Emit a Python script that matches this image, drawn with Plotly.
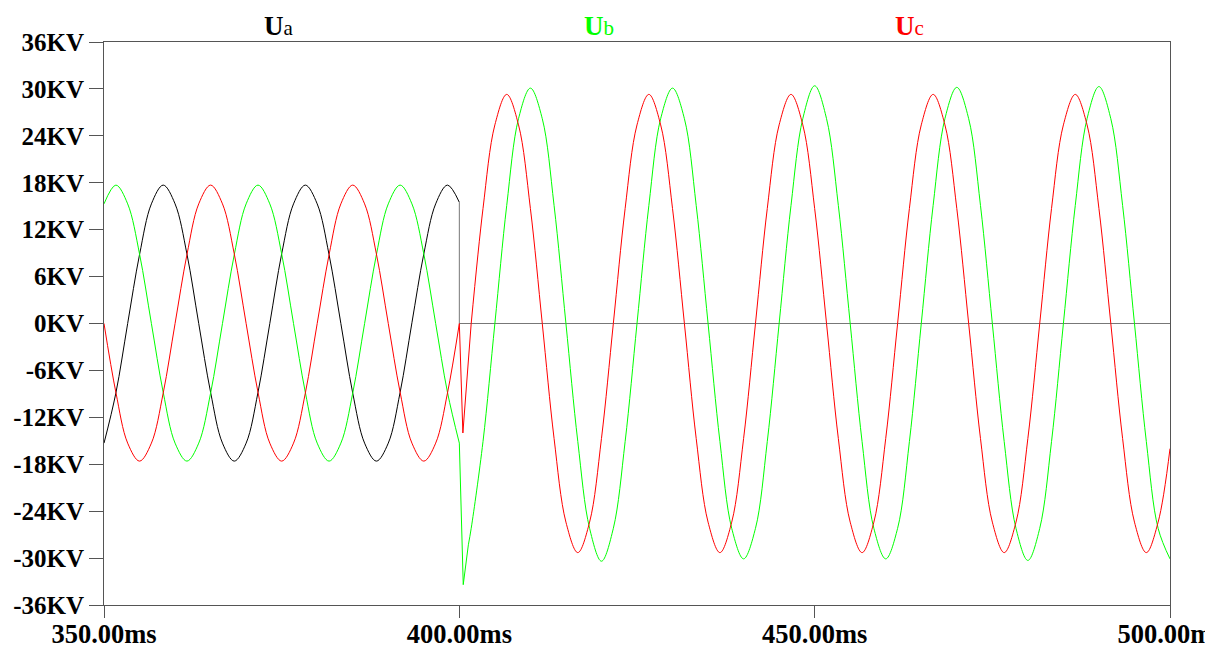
import plotly.graph_objects as go

# ---------------- data ----------------
grid_pre = [350.00, 351.67, 353.33, 355.00, 356.67, 358.33, 360.00, 361.67, 363.33, 365.00,
            366.67, 368.33, 370.00, 371.67, 373.33, 375.00, 376.67, 378.33, 380.00, 381.67,
            383.33, 385.00, 386.67, 388.33, 390.00, 391.67, 393.33, 395.00, 396.67, 398.33, 400.00]
grid_post = [401.67, 403.33, 405.00, 406.67, 408.33, 410.00, 411.67, 413.33, 415.00, 416.67,
             418.33, 420.00, 421.67, 423.33, 425.00, 426.67, 428.33, 430.00, 431.67, 433.33,
             435.00, 436.67, 438.33, 440.00, 441.67, 443.33, 445.00, 446.67, 448.33, 450.00,
             451.67, 453.33, 455.00, 456.67, 458.33, 460.00, 461.67, 463.33, 465.00, 466.67,
             468.33, 470.00, 471.67, 473.33, 475.00, 476.67, 478.33, 480.00, 481.67, 483.33,
             485.00, 486.67, 488.33, 490.00, 491.67, 493.33, 495.00, 496.67, 498.33, 500.00]

# Ua (black): pre-fault, then drops to 0 at 400 ms
ua_pre_kv = [-15.3, -8.9, 0.0, 8.8, 15.3, 17.7, 15.3, 8.9, 0.0, -8.8,
             -15.3, -17.6, -15.3, -8.8, 0.0, 8.9, 15.3, 17.7, 15.3, 8.8,
             0.0, -8.9, -15.3, -17.6, -15.3, -8.8, 0.1, 8.9, 15.3, 17.7, 15.5]
ua_post_ms = [400.00, 400.00, 500.00]
ua_post_kv = [15.5, 0.0, 0.0]

# Ub (green)
ub_pre_kv = [15.3, 17.7, 15.3, 8.9, 0.0, -8.8, -15.3, -17.6, -15.3, -8.9,
             0.0, 8.8, 15.3, 17.7, 15.3, 8.9, 0.0, -8.8, -15.3, -17.6,
             -15.3, -8.9, 0.0, 8.8, 15.3, 17.7, 15.3, 8.9, 0.0, -8.8, -15.3]
ub_tr_ms = [400.00, 400.55, 401.27]
ub_tr_kv = [-15.3, -33.4, -28.3]
ub_post_kv = [-26.2, -15.1, 0.0, 15.1, 26.2, 30.1, 26.2, 15.1, 0.0, -15.1,
              -26.2, -30.4, -26.2, -15.1, 0.0, 15.1, 26.2, 30.1, 26.2, 15.1,
              0.0, -15.1, -26.2, -30.1, -26.2, -15.1, 0.0, 15.1, 26.2, 30.4,
              26.2, 15.1, 0.0, -15.1, -26.2, -30.1, -26.2, -15.1, 0.0, 15.1,
              26.2, 30.2, 26.2, 15.1, 0.0, -15.1, -26.2, -30.3, -26.2, -15.1,
              0.0, 15.1, 26.2, 30.3, 26.2, 15.1, 0.0, -15.1, -26.2, -30.1]

# Uc (red)
uc_pre_kv = [0.0, -8.8, -15.3, -17.6, -15.3, -8.9, 0.0, 8.8, 15.3, 17.7,
             15.3, 8.9, 0.0, -8.8, -15.3, -17.6, -15.3, -8.9, 0.0, 8.8,
             15.3, 17.7, 15.3, 8.9, 0.0, -8.8, -15.3, -17.6, -15.3, -8.9, 0.0]
uc_tr_ms = [400.00, 400.50, 401.67]
uc_tr_kv = [0.0, -14.0, 0.0]
uc_post_kv = [0.0, 14.7, 25.4, 29.3, 25.4, 14.7, 0.0, -14.7, -25.4, -29.3,
              -25.4, -14.7, 0.0, 14.7, 25.4, 29.3, 25.4, 14.7, 0.0, -14.7,
              -25.4, -29.3, -25.4, -14.7, 0.0, 14.7, 25.4, 29.3, 25.4, 14.7,
              0.0, -14.7, -25.4, -29.3, -25.4, -14.7, 0.0, 14.7, 25.4, 29.3,
              25.4, 14.7, 0.0, -14.7, -25.4, -29.3, -25.4, -14.7, 0.0, 14.7,
              25.4, 29.3, 25.4, 14.7, 0.0, -14.7, -25.4, -29.3, -25.4, -16.0]

y_tick_vals = [36, 30, 24, 18, 12, 6, 0, -6, -12, -18, -24, -30, -36]
y_tick_text = ["36KV", "30KV", "24KV", "18KV", "12KV", "6KV", "0KV",
               "-6KV", "-12KV", "-18KV", "-24KV", "-30KV", "-36KV"]
x_tick_vals = [350, 400, 450, 500]
x_tick_text = ["350.00ms", "400.00ms", "450.00ms", "500.00ms"]

series_names = ["a", "b", "c"]
series_colors = ["#000000", "#00ff00", "#ff0000"]

# ---------------- figure ----------------
fig = go.Figure()
FONT = "Liberation Serif, Times New Roman, serif"

def add(x, y, color, shape):
    fig.add_trace(go.Scatter(x=x, y=y, mode="lines", showlegend=False, hoverinfo="skip",
                             line=dict(color=color, width=1, shape=shape, smoothing=1)))

# Ua
add(grid_pre, ua_pre_kv, series_colors[0], "spline")
add(ua_post_ms, ua_post_kv, "#777777", "linear")
# Ub
add(grid_pre, ub_pre_kv, series_colors[1], "spline")
add(ub_tr_ms, ub_tr_kv, series_colors[1], "linear")
add([ub_tr_ms[-1]] + grid_post, [ub_tr_kv[-1]] + ub_post_kv, series_colors[1], "spline")
# Uc
add(grid_pre, uc_pre_kv, series_colors[2], "spline")
add(uc_tr_ms, uc_tr_kv, series_colors[2], "linear")
add(grid_post, uc_post_kv, series_colors[2], "spline")

label_pos = [0.1637, 0.464, 0.756]
for nm, col, px in zip(series_names, series_colors, label_pos):
    fig.add_annotation(xref="paper", yref="paper", x=px, y=1.0, xanchor="center", yanchor="bottom",
                       yshift=-1, showarrow=False,
                       text=f"<b>U</b><span style='font-size:21px'>{nm}</span>",
                       font=dict(family=FONT, size=27, color=col))

axis_common = dict(showline=True, linecolor="#555555", linewidth=1, mirror=True,
                   showgrid=False, zeroline=False, ticks="outside",
                   tickcolor="#555555", tickwidth=1, automargin=False)

fig.update_layout(
    width=1205, height=648,
    margin=dict(l=104, r=35, t=42, b=43),
    paper_bgcolor="white", plot_bgcolor="white",
    xaxis=dict(range=[350, 500], tickmode="array", tickvals=x_tick_vals, ticktext=x_tick_text,
               ticklen=12, ticklabelstandoff=-7, ticklabeloverflow="allow",
               tickfont=dict(family=FONT, size=26.5, color="#000000", weight="bold"),
               **axis_common),
    yaxis=dict(range=[-36, 36], tickmode="array", tickvals=y_tick_vals, ticktext=y_tick_text,
               ticklen=14,
               tickfont=dict(family=FONT, size=25, color="#000000", weight="bold"),
               **axis_common),
)

fig.write_html("out.html")
